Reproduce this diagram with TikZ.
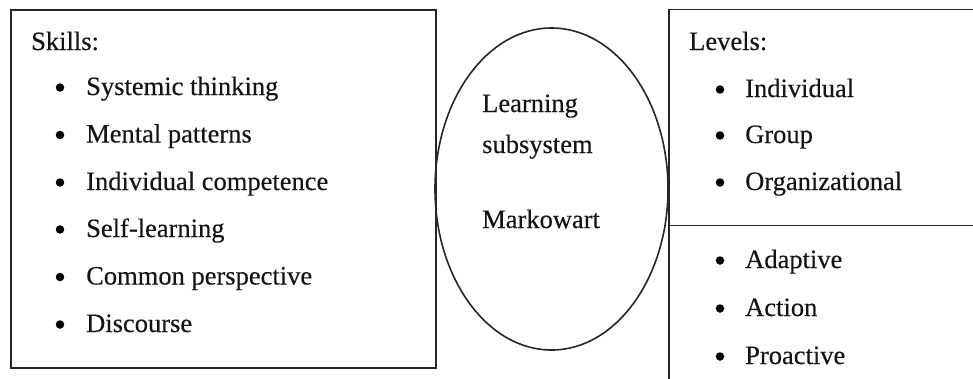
\documentclass[tikz,border=0pt]{standalone}
\usepackage{fontspec}
\setmainfont{Liberation Serif}
\newfontfamily\diagfont{Liberation Serif}[FakeBold=0.3]
\usetikzlibrary{shapes.geometric}
\begin{document}
\begin{tikzpicture}[x=1pt,y=-1pt,
  frame/.style={draw=black!85,line width=1.6pt},
  txt/.style={anchor=base west,inner sep=0pt,font=\diagfont\fontsize{26.5}{30}\selectfont,text=black!92},
  dot/.style={circle,fill=black,inner sep=0pt,minimum size=8.5pt}]
\useasboundingbox (0,0) rectangle (973,378);
\clip (0,0) rectangle (973,378);
% boxes
\node[frame,rectangle,anchor=north west,minimum width=425pt,minimum height=358pt,inner sep=0pt] (skillbox) at (10,9) {};
\node[frame,ellipse,minimum width=233pt,minimum height=322pt,inner sep=0pt] (core) at (551.5,189) {};
\node[frame,rectangle,anchor=north west,minimum width=340pt,minimum height=216pt,inner sep=0pt] (levelbox) at (668,8.5) {};
\node[frame,rectangle,anchor=north west,minimum width=340pt,minimum height=200pt,inner sep=0pt] (typebox) at (668,224.5) {};
% left texts
\node[txt] (sk) at (31,50) {Skills:};
\foreach \t/\y [count=\i] in {Systemic thinking/95,Mental patterns/142.5,Individual competence/190,Self-learning/237,Common perspective/284.5,Discourse/332}{
  \node[dot] (sb\i) at (60,\y-7.5) {};
  \node[txt] (st\i) at (86,\y) {\t};
}
% ellipse texts
\node[txt] (l1) at (482,112) {Learning};
\node[txt] (l2) at (482,153) {subsystem};
\node[txt] (l3) at (482,228) {Markowart};
% right texts
\node[txt] (lv) at (689,50) {Levels:};
\foreach \t/\y [count=\i] in {Individual/97,Group/143,Organizational/190,Adaptive/268,Action/316,Proactive/364}{
  \node[dot] (rb\i) at (720,\y-7.5) {};
  \node[txt] (rt\i) at (745,\y) {\t};
}
\end{tikzpicture}
\end{document}
